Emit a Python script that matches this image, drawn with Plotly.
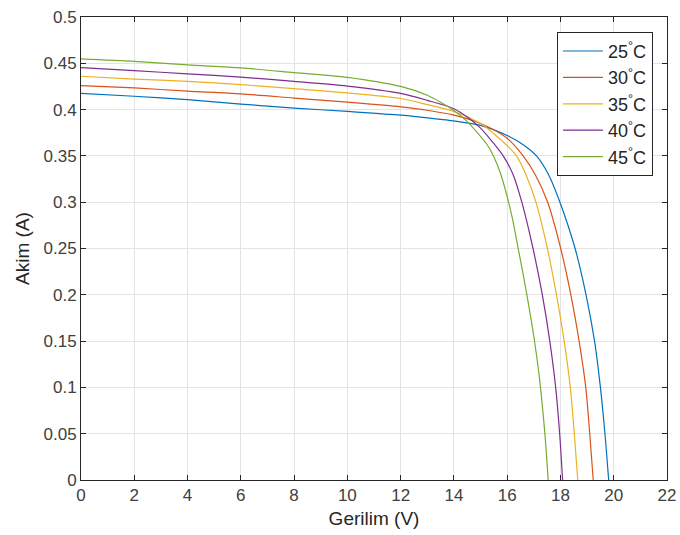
import plotly.graph_objects as go

# Current-voltage characteristics of a PV module at different cell temperatures
labels = ["25<sup>°</sup>C", "30<sup>°</sup>C", "35<sup>°</sup>C", "40<sup>°</sup>C", "45<sup>°</sup>C"]
colors = ["#0072BD", "#D95319", "#EDB120", "#7E2F8E", "#77AC30"]

v_25 = [0, 2, 4, 6, 8, 10, 12, 13, 14, 15, 16, 16.6, 17.1, 17.55, 17.98, 18.55, 18.96, 19.28, 19.5, 19.67, 19.81]
i_25 = [0.4176, 0.4144, 0.4108, 0.406, 0.4017, 0.398, 0.394, 0.391, 0.3878, 0.383, 0.372, 0.362, 0.35,
        0.33, 0.30, 0.25, 0.20, 0.15, 0.10, 0.05, 0.0]

v_30 = [0, 2, 4, 6, 8, 10, 12, 13, 14, 15, 16, 16.6, 17.05, 17.52, 18.01, 18.39, 18.7, 18.95, 19.1, 19.23]
i_30 = [0.4259, 0.4234, 0.42, 0.417, 0.4125, 0.408, 0.403, 0.3993, 0.394, 0.385, 0.369, 0.35, 0.33,
        0.30, 0.25, 0.20, 0.15, 0.10, 0.05, 0.0]

v_35 = [0, 2, 4, 6, 8, 10, 12, 13, 14, 15, 15.5, 16, 16.35, 16.7, 17.08, 17.51, 17.85, 18.14, 18.37, 18.52, 18.65]
i_35 = [0.436, 0.433, 0.4305, 0.427, 0.4226, 0.418, 0.412, 0.4054, 0.398, 0.385, 0.374, 0.361, 0.35,
        0.33, 0.30, 0.25, 0.20, 0.15, 0.10, 0.05, 0.0]

v_40 = [0, 2, 4, 6, 8, 10, 12, 13, 14, 14.5, 15, 15.45, 15.85, 16.22, 16.55, 16.97, 17.32, 17.6, 17.82, 17.97, 18.08]
i_40 = [0.4453, 0.442, 0.4386, 0.435, 0.4305, 0.4254, 0.4175, 0.41, 0.401, 0.392, 0.38, 0.365, 0.35,
        0.33, 0.30, 0.25, 0.20, 0.15, 0.10, 0.05, 0.0]

v_45 = [0, 2, 4, 6, 8, 10, 12, 13, 13.5, 14, 14.5, 15, 15.25, 15.5, 15.75, 16, 16.2, 16.4, 16.6, 16.8,
        17, 17.2, 17.32, 17.43, 17.54]
i_45 = [0.4547, 0.452, 0.4482, 0.445, 0.440, 0.4349, 0.425, 0.4155, 0.408, 0.399, 0.387, 0.371, 0.362,
        0.349, 0.331, 0.306, 0.282, 0.252, 0.222, 0.19, 0.155, 0.113, 0.08, 0.045, 0.0]

voltages = [v_25, v_30, v_35, v_40, v_45]
currents = [i_25, i_30, i_35, i_40, i_45]

x_ticks = list(range(0, 23, 2))
y_ticks = [0, 0.05, 0.1, 0.15, 0.2, 0.25, 0.3, 0.35, 0.4, 0.45, 0.5]
y_tick_text = ["0", "0.05", "0.1", "0.15", "0.2", "0.25", "0.3", "0.35", "0.4", "0.45", "0.5"]

fig = go.Figure()
for v, i, name, c in zip(voltages, currents, labels, colors):
    fig.add_trace(go.Scatter(
        x=v, y=i, mode="lines", name=name,
        line=dict(color=c, width=1.2, shape="spline", smoothing=0.8),
    ))

axis_common = dict(
    showline=True, linecolor="#262626", linewidth=1, mirror="ticks",
    ticks="inside", ticklen=5, tickcolor="#262626",
    showgrid=True, gridcolor="#e3e3e3", gridwidth=1, zeroline=False,
    tickfont=dict(size=17, color="#404040"), automargin=False,
)

fig.update_xaxes(range=[0, 22], tickvals=x_ticks,
                 title=dict(text="Gerilim (V)", font=dict(size=19, color="#262626"), standoff=7),
                 **axis_common)
fig.update_yaxes(range=[0, 0.5], tickvals=y_ticks, ticktext=y_tick_text,
                 title=dict(text="Akim (A)", font=dict(size=19, color="#262626"), standoff=8),
                 **axis_common)

fig.update_layout(
    width=680, height=535,
    margin=dict(l=81, r=13, t=17, b=55),
    paper_bgcolor="white", plot_bgcolor="white",
    font=dict(family="Liberation Sans, Arial, sans-serif", color="#262626"),
    legend=dict(
        x=0.976, y=0.968, xanchor="right", yanchor="top",
        bgcolor="white", bordercolor="#262626", borderwidth=1,
        font=dict(size=18, color="#262626"),
        tracegroupgap=0, itemwidth=40,
    ),
    showlegend=True,
)

fig.write_html("out.html")
